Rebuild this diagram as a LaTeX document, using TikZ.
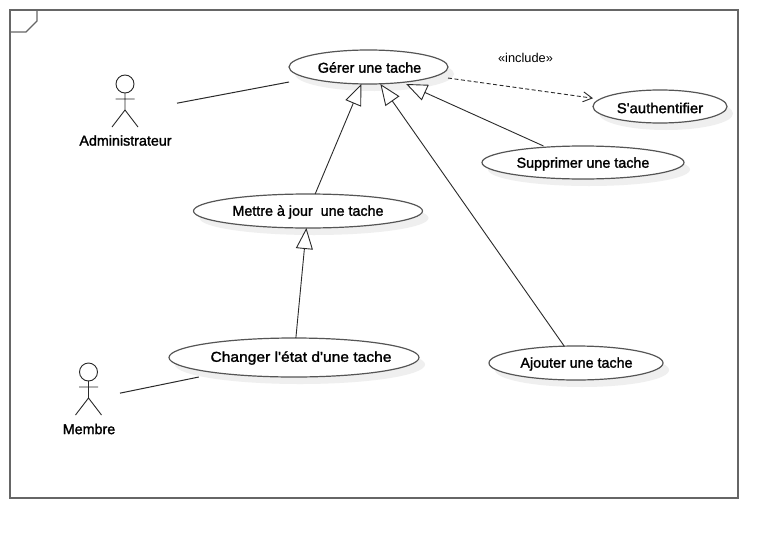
\documentclass[tikz,border=0pt]{standalone}
\usepackage{fontspec}
\setmainfont{Liberation Sans}
\newfontfamily\ucfont[FakeBold=1.6]{Liberation Sans}
\usetikzlibrary{arrows.meta}
\definecolor{framecol}{HTML}{666666}
\definecolor{edgecol}{HTML}{555555}
\definecolor{linecol}{HTML}{2A2A2A}
\definecolor{shadowcol}{HTML}{EFEFEF}
\tikzset{
  x=1pt,y=-1pt,
  ucbox/.style={rectangle,draw=none,inner sep=0pt,outer sep=0pt},
  ucell/.style={inner sep=0pt,outer sep=0pt,font=\ucfont\fontsize{14.3}{16}\selectfont,text=black},
  actorlabel/.style={inner sep=0pt,font=\ucfont\fontsize{14.3}{16}\selectfont,text=black},
  stick/.style={draw=linecol,line width=0.9pt},
  assoc/.style={draw=linecol,line width=1pt},
  general/.style={draw=linecol,line width=0.9pt,-{Triangle[open,fill=white,length=21pt,width=17pt]}},
  incl/.style={draw=linecol,line width=0.9pt,dash pattern=on 4pt off 2.5pt,-{Straight Barb[length=9pt,width=10pt,line width=0.9pt]}},
  pics/stickman/.style={code={
    \path[stick] (0,0) circle[radius=9pt];
    \path[stick] (0,9) -- (0,26) (-9.5,15) -- (9.5,15) (-13,43) -- (0,26) -- (13,43);
  }}
}
\begin{document}
\begin{tikzpicture}
\useasboundingbox (0,0) rectangle (778,538);
\fill[white] (0,0) rectangle (778,538);
% frame
\draw[framecol,line width=1.4pt] (10,10) rectangle (738,498);
\draw[framecol,line width=1.4pt] (10,32) -- (26,32) -- (37,21) -- (37,10);
% shadows and ellipses
\foreach \cx/\cy/\rx/\ry in {368.5/67/79.5/17,660/106.5/67/16.5,583/162.5/101/16.5,308/211/114.5/17,294/357.5/125/19.5,576/363/87/17}{
  \fill[shadowcol] (\cx+6,\cy+7) ellipse[x radius=\rx pt,y radius=\ry pt];
  \draw[edgecol,fill=white,line width=1.2pt] (\cx,\cy) ellipse[x radius=\rx pt,y radius=\ry pt];
}
% bounding boxes of the use cases, on which connectors end
\node[ucbox,minimum width=159pt,minimum height=34pt] (gererBox) at (368.5,67) {};
\node[ucbox,minimum width=134pt,minimum height=33pt] (authBox) at (660,107.5) {};
\node[ucbox,minimum width=202pt,minimum height=33pt] (supprBox) at (580,162.5) {};
\node[ucbox,minimum width=229pt,minimum height=34pt] (mettreBox) at (308,211) {};
\node[ucbox,minimum width=250pt,minimum height=39pt] (changerBox) at (294,357.5) {};
\node[ucbox,minimum width=174pt,minimum height=34pt] (ajouterBox) at (576,363) {};
\node[ucbox,minimum width=104pt,minimum height=76pt] (adminBox) at (125,113) {};
\node[ucbox,minimum width=62pt,minimum height=76pt] (membreBox) at (89,399.5) {};
% use case texts
\node[ucell] (gerer) at (369.5,67.5) {Gérer une tache};
\node[ucell] (auth) at (660,108) {\scalebox{1.04}[1]{S'authentifier}};
\node[ucell] (suppr) at (583,164) {Supprimer une tache};
\node[ucell] (mettre) at (308,212) {Mettre à jour\ \ une tache};
\node[ucell] (changer) at (301,358) {\scalebox{1.09}[1]{Changer l'état d'une tache}};
\node[ucell] (ajouter) at (576.5,364) {Ajouter une tache};
% actors
\pic at (125,84) {stickman};
\node[actorlabel] (admin) at (125.5,140.5) {Administrateur};
\pic at (88.5,372) {stickman};
\node[actorlabel] (membre) at (89,429) {Membre};
% connectors
\draw[assoc] (adminBox) -- (gererBox);
\draw[assoc] (membreBox) -- (changerBox);
\draw[general] (mettreBox) -- (gererBox);
\draw[general] (ajouterBox) -- (gererBox);
\draw[general] (supprBox) -- (gererBox);
\draw[general] (changerBox) -- (mettreBox);
\draw[incl] (gererBox) -- (authBox);
\node[inner sep=0pt,font=\fontsize{12.8}{15}\selectfont,text=black] (includeText) at (525.5,57.5) {«include»};
\end{tikzpicture}
\end{document}
